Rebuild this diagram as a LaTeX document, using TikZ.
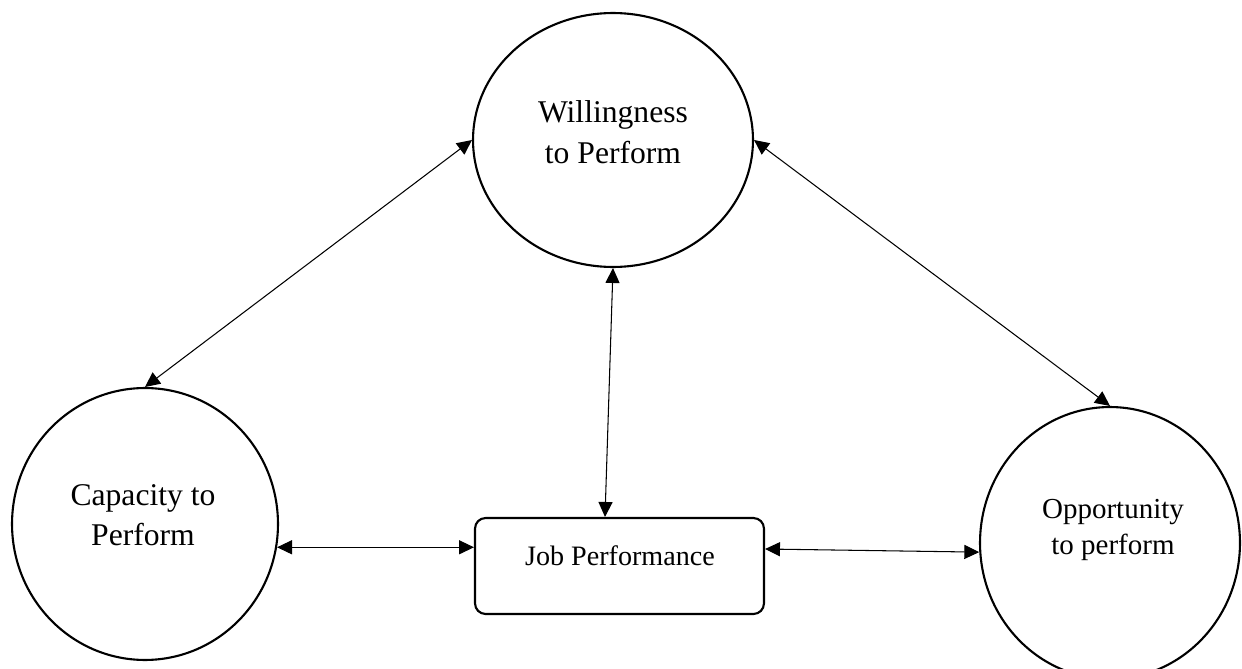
\documentclass[tikz,border=0pt]{standalone}
\usepackage{fontspec}
\setmainfont{Liberation Serif}
\usetikzlibrary{shapes.geometric,arrows.meta}
\begin{document}
\begin{tikzpicture}[x=0.02cm,y=-0.02cm]
                        \tikzstyle{circ}=[draw,ellipse,line width=1.2pt,inner sep=0pt]
                        \tikzstyle{jobbox}=[draw,rectangle,rounded corners=6pt,line width=1.2pt,minimum width=5.78cm,minimum height=1.92cm]
                        \tikzstyle{txt}=[align=center,font=\fontsize{18}{23}\selectfont]
                        \tikzstyle{link}=[{Triangle[length=8.5pt,width=8pt]}-{Triangle[length=8.5pt,width=8pt]},line width=0.6pt]
                        \useasboundingbox (0,0) rectangle (1242,669);
                        \clip (0,0) rectangle (1242,669);
                        \node[circ,minimum width=5.6cm,minimum height=5.08cm] (will) at (613,140) {};
                        \node[circ,minimum width=5.32cm,minimum height=5.44cm] (cap) at (145,524) {};
                        \node[circ,minimum width=5.2cm,minimum height=5.44cm] (opp) at (1110,543) {};
                        \node[jobbox] (job) at (619.5,566) {};
                        \node[txt] (willtxt) at (613,132) {Willingness\\to Perform};
                        \node[txt] (captxt) at (143,515) {Capacity to\\Perform};
                        \node[txt,font=\fontsize{16.5}{20.5}\selectfont] (opptxt) at (1113,530) {Opportunity\\to perform};
                        \node[font=\fontsize{16}{19}\selectfont] (jobtxt) at (620,556) {Job Performance};
                        \draw[link] (will.west) -- (cap.north);
                        \draw[link] (will.east) -- (opp.north);
                        \draw[link] (will.south) -- ([xshift=-0.29cm]job.north);
                        \draw[link] (cap.-10) -- (cap.-10 -| job.west);
                        \draw[link] ([yshift=0.34cm]job.east) -- (opp.184);
                    \end{tikzpicture}
\end{document}
